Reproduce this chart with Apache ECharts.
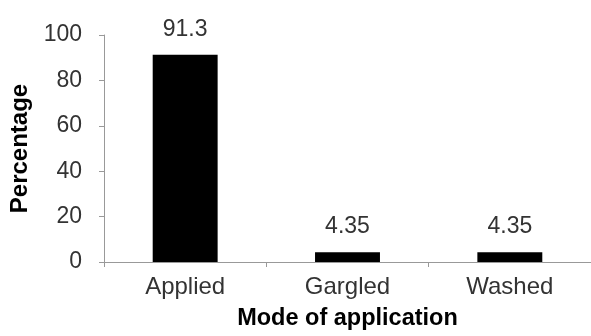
<!DOCTYPE html>
<html>
<head>
<meta charset="utf-8">
<script src="https://cdn.jsdelivr.net/npm/echarts@6/dist/echarts.min.js"></script>
<style>html,body{margin:0;padding:0;background:#fff;}#c{width:591px;height:336px;}</style>
</head>
<body>
<div id="c"></div>
<script>
const categories = ["Applied", "Gargled", "Washed"];
const values = [91.3, 4.35, 4.35];
const valueLabels = ["91.3", "4.35", "4.35"];
const yTicks = [0, 20, 40, 60, 80, 100];

const chart = echarts.init(document.getElementById('c'), null, {renderer: 'canvas'});
const font = 'Liberation Sans';
chart.setOption({
  animation: false,
  backgroundColor: '#fff',
  grid: {left: 104, width: 488, top: 35, bottom: 70, containLabel: false},
  xAxis: {
    type: 'category',
    data: categories,
    name: 'Mode of application',
    nameLocation: 'middle',
    nameGap: 45,
    nameTextStyle: {fontFamily: font, fontWeight: 'bold', fontSize: 23.5, color: '#000'},
    axisLine: {lineStyle: {color: '#999', width: 1}},
    axisTick: {show: true, length: 5, lineStyle: {color: '#999'}},
    axisLabel: {fontFamily: font, fontSize: 24, color: '#333', margin: 13}
  },
  yAxis: {
    type: 'value',
    min: yTicks[0],
    max: yTicks[yTicks.length - 1],
    interval: yTicks[1] - yTicks[0],
    name: 'Percentage',
    nameLocation: 'middle',
    nameGap: 69,
    nameTextStyle: {fontFamily: font, fontWeight: 'bold', fontSize: 24, color: '#000'},
    axisLine: {show: true, lineStyle: {color: '#999', width: 1}},
    axisTick: {show: true, length: 5, lineStyle: {color: '#999'}},
    splitLine: {show: false},
    axisLabel: {fontFamily: font, fontSize: 23, color: '#333', margin: 22}
  },
  series: [{
    type: 'bar',
    data: values,
    barWidth: '40%',
    itemStyle: {color: '#000'},
    label: {
      show: true,
      position: 'top',
      distance: 14,
      fontFamily: font,
      fontSize: 23,
      color: '#333',
      formatter: p => valueLabels[p.dataIndex]
    }
  }]
});
</script>
</body>
</html>
